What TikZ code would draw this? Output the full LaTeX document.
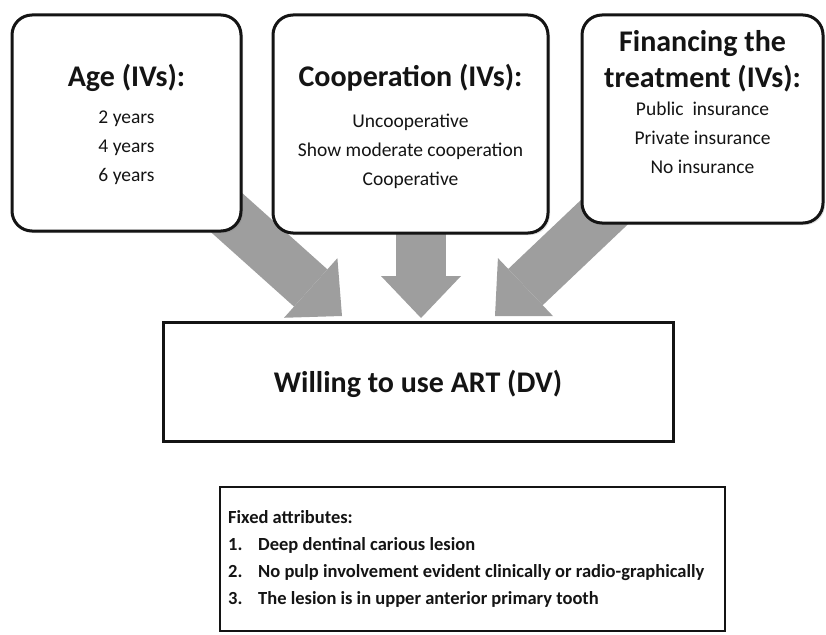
\documentclass[tikz,border=0pt]{standalone}
\usepackage{fontspec}
\setmainfont{Carlito}
\usetikzlibrary{arrows.meta,backgrounds,shadows}

\definecolor{arrowgray}{RGB}{158,158,158}
\definecolor{inkblack}{RGB}{20,20,20}

\tikzset{
  ivbox/.style={draw=inkblack, line width=3pt, rounded corners=20pt, fill=white, inner sep=0pt,
    drop shadow={shadow xshift=2pt, shadow yshift=-2pt, opacity=0.25}},
  plainbox/.style={draw=inkblack, line width=3pt, fill=white, inner sep=0pt},
  headtext/.style={font=\fontsize{30}{36}\selectfont\bfseries, text=inkblack, align=center, inner sep=0pt},
  itemtext/.style={font=\fontsize{19.5}{29}\selectfont, text=inkblack, align=center, inner sep=0pt},
  fixtext/.style={font=\fontsize{18.5}{27}\selectfont\bfseries, text=inkblack, align=left, inner sep=0pt},
  fatarrow/.style={draw=arrowgray, line width=50pt, -{Triangle[length=42pt, width=80pt, line width=0pt]}}
}

\begin{document}
\begin{tikzpicture}[x=1pt,y=-1pt]
  \useasboundingbox (0,0) rectangle (826,634);

  % Independent variables
  \node[ivbox, minimum width=229pt, minimum height=216pt] (age) at (126.5,123) {};
  \node[ivbox, minimum width=275pt, minimum height=218pt] (coop) at (410.5,124) {};
  \node[ivbox, minimum width=241pt, minimum height=208pt] (fin) at (702.5,119) {};

  \node[headtext] (ageHead) at (126.5,78) {Age (IVs):};
  \node[itemtext] (ageItems) at (126.5,148) {2 years\\4 years\\6 years};

  \node[headtext] (coopHead) at (410.5,78) {Cooperation (IVs):};
  \node[itemtext] (coopItems) at (410.5,151) {Uncooperative\\Show moderate cooperation\\Cooperative};

  \node[headtext] (finHead) at (702.5,61) {Financing the\\treatment (IVs):};
  \node[itemtext] (finItems) at (702.5,138) {Public\ \ insurance\\Private insurance\\No insurance};

  % Dependent variable
  \node[plainbox, minimum width=510pt, minimum height=119pt] (dv) at (418,381.5) {};
  \node[headtext] (dvText) at (418,384) {Willing to use ART (DV)};

  % Fixed attributes
  \node[plainbox, line width=2.5pt, minimum width=505pt, minimum height=144pt] (fixed) at (472.5,559) {};
  \node[fixtext, anchor=north west] (fixedText) at (228,510) {Fixed attributes:\\
    \makebox[30pt][l]{1.}Deep dentinal carious lesion\\
    \makebox[30pt][l]{2.}No pulp involvement evident clinically or radio-graphically\\
    \makebox[30pt][l]{3.}The lesion is in upper anterior primary tooth};

  % Arrows
  \coordinate (tipL) at (342,316);
  \coordinate (tipM) at (421,318);
  \coordinate (tipR) at (495,316);
  \begin{scope}[on background layer]
    \draw[fatarrow] (age.center) -- (tipL);
    \draw[fatarrow] (tipM |- coop.center) -- (tipM);
    \draw[fatarrow] (fin.center) -- (tipR);
  \end{scope}
\end{tikzpicture}
\end{document}
